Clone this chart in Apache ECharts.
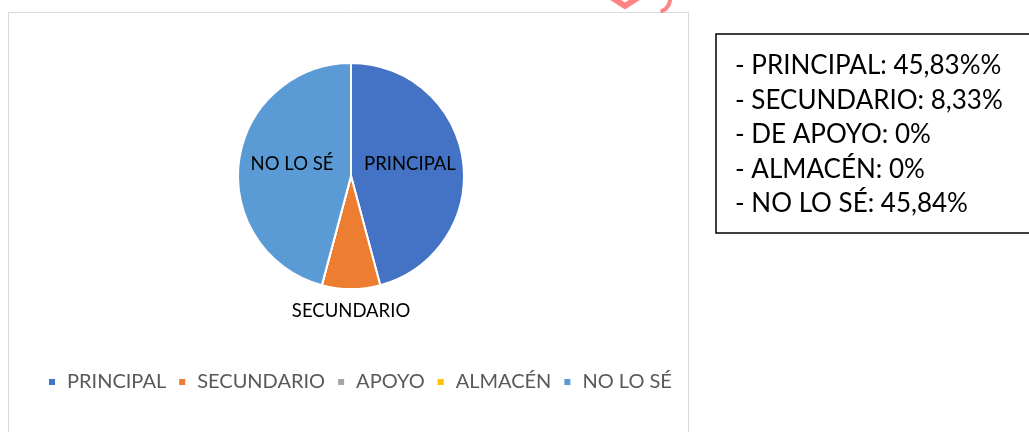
<!DOCTYPE html>
<html>
<head>
<meta charset="utf-8">
<script src="https://cdn.jsdelivr.net/npm/echarts@6/dist/echarts.min.js"></script>
<style>
  html, body { margin: 0; padding: 0; background: #fff; }
  #chart { width: 1029px; height: 432px; }
</style>
</head>
<body>
<div id="chart"></div>
<script>
// datos del grafico
var categories = ['PRINCIPAL', 'SECUNDARIO', 'APOYO', 'ALMACÉN', 'NO LO SÉ'];
var values = [45.83, 8.33, 0, 0, 45.84];
var colors = ['#4472C4', '#ED7D31', '#A5A5A5', '#FFC000', '#5B9BD5'];
// texto del recuadro de la derecha
var noteLines = [
	'- PRINCIPAL: 45,83%%',
	'- SECUNDARIO: 8,33%',
	'- DE APOYO: 0%',
	'- ALMACÉN: 0%',
	'- NO LO SÉ: 45,84%'
];

var font = 'Lato, "Open Sans", sans-serif';

var chart = echarts.init(document.getElementById('chart'));

var pieData = categories.map(function (name, i) {
	var item = { name: name, value: values[i], itemStyle: { color: colors[i] } };
	if (values[i] === 0) {
		item.label = { show: false };
	}
	if (i === 1) {// SECUNDARIO va fuera, debajo
		item.label = { show: true, position: 'outside' };
		item.labelLine = { show: false };
	}
	return item;
});

// recuadro con las lineas de texto
var noteTexts = noteLines.map(function (t, i) {
	return {
		type: 'text',
		x: 735,
		y: 66 + i * 34.5,
		style: { text: t, font: '26px ' + font, fill: '#000', verticalAlign: 'middle' }
	};
});

chart.setOption({
	animation: false,
	backgroundColor: '#fff',
	legend: {
		data: categories,
		left: 42,
		top: 367,
		icon: 'rect',
		itemWidth: 8,
		itemHeight: 8,
		itemGap: 11,
		textStyle: {
			fontFamily: font,
			fontSize: 20,
			color: '#595959',
			padding: [0, 0, 0, 6]
		}
	},
	graphic: [
		{// borde del area del grafico
			type: 'rect',
			z: -1,
			shape: { x: 8.5, y: 12.5, width: 680, height: 440 },
			style: { fill: 'none', stroke: '#d9d9d9', lineWidth: 1 }
		},
		{// marca roja arriba
			type: 'polyline',
			shape: { points: [[611, -3], [625, 6], [639, -3]] },
			style: { fill: 'none', stroke: '#ff8585', lineWidth: 6 }
		},
		{
			type: 'arc',
			shape: { cx: 657, cy: -1, r: 13, startAngle: -0.4, endAngle: 1.3 },
			style: { fill: 'none', stroke: '#ff8585', lineWidth: 4 }
		},
		{
			type: 'rect',
			shape: { x: 716, y: 34, width: 330, height: 199 },
			style: { fill: '#fff', stroke: '#000', lineWidth: 1.5 }
		}
	].concat(noteTexts),
	series: [{
		name: 'Tipo',
		type: 'pie',
		center: [351, 176],
		radius: 113,
		startAngle: 90,
		clockwise: true,
		itemStyle: { borderColor: '#fff', borderWidth: 2 },
		label: {
			show: true,
			position: 'inside',
			color: '#000',
			fontFamily: font,
			fontSize: 18.5
		},
		labelLine: { show: false },
		labelLayout: function (p) {
			if (p.dataIndex !== 1) return { dy: -4 };
			return {
				x: p.rect.x + p.rect.width / 2,
				y: p.rect.y + p.rect.height + 21,
				align: 'center',
				verticalAlign: 'middle'
			};
		},
		emphasis: { disabled: true },
		data: pieData
	}]
});
</script>
</body>
</html>
